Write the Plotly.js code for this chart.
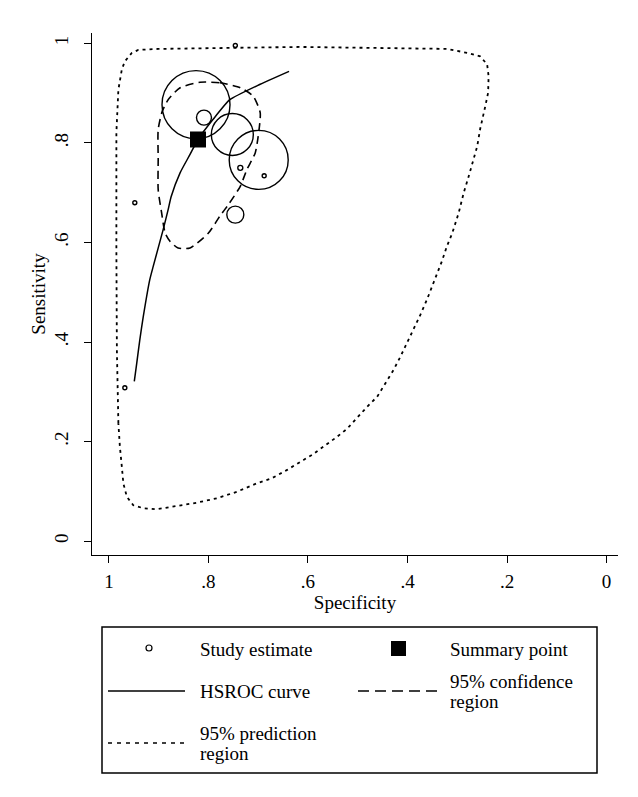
<!DOCTYPE html>
<html><head><meta charset="utf-8">
<script src="https://cdn.plot.ly/plotly-3.0.1.min.js"></script>
<style>html,body{margin:0;padding:0;background:#fff}</style>
</head><body><div id="chart" style="width:638px;height:797px"></div>
<script>
// ---- data ----
const studySpec = [0.746, 0.825, 0.809, 0.752, 0.699, 0.746, 0.736, 0.688, 0.948, 0.968];
const studySens = [0.996, 0.877, 0.851, 0.817, 0.766, 0.656, 0.750, 0.734, 0.680, 0.308];
const studySize = [4, 68, 15, 42, 59, 17, 5, 4, 4, 4];

const summarySpec = [0.821];
const summarySens = [0.807];

const hsrocSpec = [0.638, 0.696, 0.757, 0.791, 0.821, 0.837, 0.857, 0.875, 0.881, 0.891, 0.911, 0.918, 0.931, 0.938, 0.944, 0.949];
const hsrocSens = [0.944, 0.918, 0.887, 0.847, 0.807, 0.777, 0.740, 0.692, 0.666, 0.626, 0.552, 0.525, 0.451, 0.404, 0.358, 0.321];

const confSpec = [0.817, 0.777, 0.736, 0.710, 0.696, 0.700, 0.706, 0.723, 0.736, 0.760, 0.777, 0.800, 0.837, 0.861, 0.877, 0.887, 0.894, 0.901, 0.901, 0.901, 0.893, 0.881, 0.857];
const confSens = [0.922, 0.921, 0.911, 0.894, 0.861, 0.814, 0.780, 0.746, 0.713, 0.676, 0.653, 0.619, 0.589, 0.589, 0.602, 0.619, 0.659, 0.706, 0.767, 0.827, 0.863, 0.887, 0.911];

const predSpec = [0.981, 0.984, 0.985, 0.985, 0.981, 0.974, 0.968, 0.954, 0.941, 0.901, 0.616, 0.388, 0.320, 0.300, 0.280, 0.254, 0.240, 0.237, 0.238, 0.243, 0.248, 0.254, 0.260, 0.268, 0.277, 0.287, 0.297, 0.310, 0.321, 0.331, 0.341, 0.351, 0.361, 0.374, 0.388, 0.401, 0.414, 0.428, 0.445, 0.461, 0.481, 0.502, 0.522, 0.545, 0.569, 0.592, 0.609, 0.642, 0.673, 0.703, 0.743, 0.783, 0.824, 0.864, 0.904, 0.931, 0.951, 0.964, 0.971, 0.974, 0.978];
const predSens = [0.237, 0.384, 0.586, 0.821, 0.907, 0.948, 0.964, 0.981, 0.987, 0.989, 0.993, 0.989, 0.989, 0.985, 0.981, 0.974, 0.958, 0.934, 0.901, 0.877, 0.854, 0.828, 0.793, 0.767, 0.733, 0.700, 0.660, 0.619, 0.592, 0.562, 0.535, 0.508, 0.485, 0.455, 0.425, 0.398, 0.371, 0.344, 0.317, 0.290, 0.270, 0.247, 0.225, 0.207, 0.190, 0.173, 0.163, 0.143, 0.126, 0.116, 0.099, 0.086, 0.077, 0.070, 0.064, 0.066, 0.072, 0.089, 0.116, 0.149, 0.190];

const xTickVals = [1, 0.8, 0.6, 0.4, 0.2, 0];
const xTickText = ['1', '.8', '.6', '.4', '.2', '0'];
const yTickVals = [0, 0.2, 0.4, 0.6, 0.8, 1];
const yTickText = ['0', '.2', '.4', '.6', '.8', '1'];

const legendLabels = ['Study estimate', 'Summary point', 'HSROC curve', '95% confidence', 'region', '95% prediction', 'region'];

// ---- layout geometry ----
const W = 638, H = 797;
const M = {l: 92, r: 20, t: 33, b: 242};
const PW = W - M.l - M.r, PH = H - M.t - M.b;
const px = x => (x - M.l) / PW;
const py = y => (M.t + PH - y) / PH;

const close = a => a.concat([a[0]]);
const FONT = 'Liberation Serif, Times New Roman, serif';

const traces = [
  {x: close(predSpec), y: close(predSens), mode: 'lines', type: 'scatter',
   line: {color: '#000', width: 1.8, dash: '3px,4px'}, hoverinfo: 'skip'},
  {x: close(confSpec), y: close(confSens), mode: 'lines', type: 'scatter', line: {shape: 'spline', smoothing: 0.6,
   color: '#000', width: 1.6, dash: '8px,5px'}, hoverinfo: 'skip'},
  {x: hsrocSpec, y: hsrocSens, mode: 'lines', type: 'scatter', line: {shape: 'spline', smoothing: 0.5,
   color: '#000', width: 1.5}},
  {x: studySpec, y: studySens, mode: 'markers', type: 'scatter',
   marker: {symbol: 'circle-open', size: studySize, opacity: 1, color: '#000', line: {color: '#000', width: 1.4}}},
  {x: summarySpec, y: summarySens, mode: 'markers', type: 'scatter',
   marker: {symbol: 'square', size: 16, opacity: 1, color: '#000'}}
];

const shapes = [
  {type: 'rect', xref: 'paper', yref: 'paper', x0: px(102), x1: px(597), y0: py(627), y1: py(773),
   line: {color: '#000', width: 1.5}},
  {type: 'circle', xref: 'paper', yref: 'paper', x0: px(146), x1: px(152), y0: py(645), y1: py(651),
   line: {color: '#000', width: 1.2}},
  {type: 'rect', xref: 'paper', yref: 'paper', x0: px(391), x1: px(406), y0: py(641), y1: py(656),
   fillcolor: '#000', line: {color: '#000', width: 0}},
  {type: 'line', xref: 'paper', yref: 'paper', x0: px(108), x1: px(185), y0: py(691), y1: py(691),
   line: {color: '#000', width: 1.5}},
  {type: 'line', xref: 'paper', yref: 'paper', x0: px(358), x1: px(437), y0: py(691), y1: py(691),
   line: {color: '#000', width: 1.5, dash: '11px,6px'}},
  {type: 'line', xref: 'paper', yref: 'paper', x0: px(108), x1: px(187), y0: py(743), y1: py(743),
   line: {color: '#000', width: 1.6, dash: '4px,5px'}}
];

const annPos = [[198, 649], [448, 649], [198, 691], [448, 681], [448, 701], [198, 733], [198, 754]];
const annotations = legendLabels.map((t, i) => ({
  text: t, xref: 'paper', yref: 'paper', x: px(annPos[i][0]), y: py(annPos[i][1]),
  xanchor: 'left', yanchor: 'middle', showarrow: false, font: {family: FONT, size: 19, color: '#000'}
}));

const axisCommon = {
  showline: true, linecolor: '#000', linewidth: 1, mirror: false,
  ticks: 'outside', ticklen: 7, tickwidth: 1, tickcolor: '#000',
  showgrid: false, zeroline: false, fixedrange: true,
  tickfont: {family: FONT, size: 19, color: '#000'}
};

const layout = {
  width: W, height: H, margin: M, showlegend: false,
  paper_bgcolor: '#fff', plot_bgcolor: '#fff',
  font: {family: FONT, size: 19, color: '#000'},
  xaxis: Object.assign({}, axisCommon, {
    range: [1.034, -0.023], autorange: false, tickmode: 'array', tickvals: xTickVals, ticktext: xTickText,
    ticklabelstandoff: 2,
    title: {text: 'Specificity', font: {family: FONT, size: 19, color: '#000'}, standoff: 2}
  }),
  yaxis: Object.assign({}, axisCommon, {
    range: [-0.028, 1.021], autorange: false, tickmode: 'array', tickvals: yTickVals, ticktext: yTickText,
    tickangle: -90, ticklabelstandoff: 8,
    title: {text: 'Sensitivity', font: {family: FONT, size: 19, color: '#000'}, standoff: 0}
  }),
  shapes: shapes, annotations: annotations
};

Plotly.newPlot('chart', traces, layout, {staticPlot: true, displayModeBar: false});
</script>
</body></html>
